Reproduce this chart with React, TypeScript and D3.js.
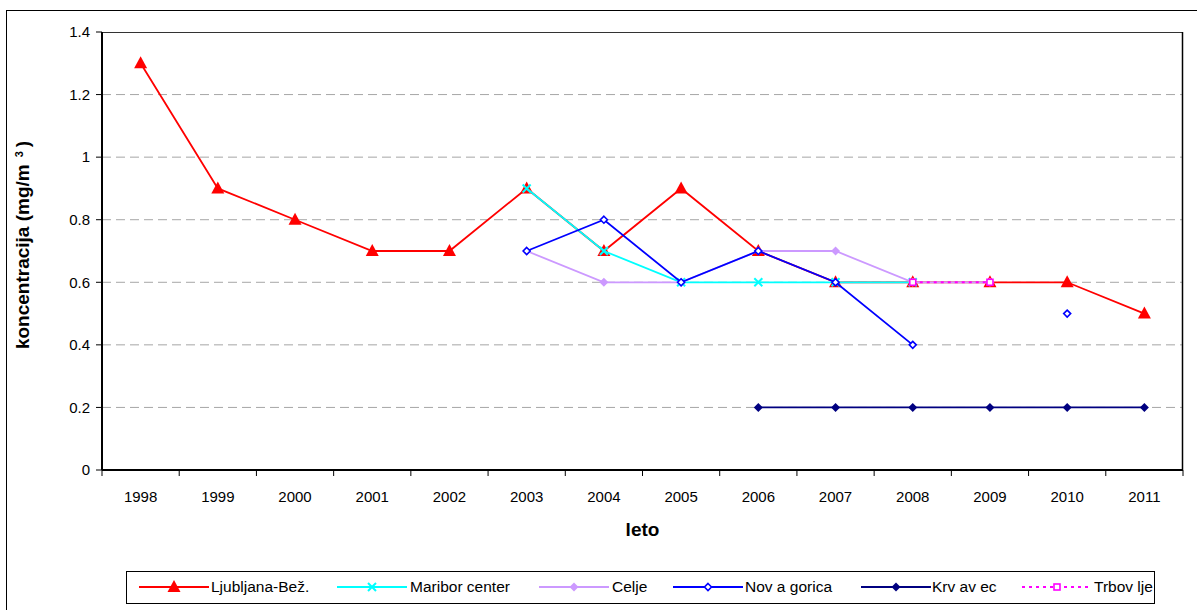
import React from "react";
import * as d3 from "d3";

const years = ["1998","1999","2000","2001","2002","2003","2004","2005","2006","2007","2008","2009","2010","2011"];
const yTicks = [0, 0.2, 0.4, 0.6, 0.8, 1, 1.2, 1.4];

const ljubljana: (number|null)[] = [1.3,0.9,0.8,0.7,0.7,0.9,0.7,0.9,0.7,0.6,0.6,0.6,0.6,0.5];
const maribor: (number|null)[] = [null,null,null,null,null,0.9,0.7,0.6,0.6,0.6,0.6,null,null,null];
const celje: (number|null)[] = [null,null,null,null,null,0.7,0.6,0.6,0.7,0.7,0.6,0.6,null,null];
const novaGorica: (number|null)[] = [null,null,null,null,null,0.7,0.8,0.6,0.7,0.6,0.4,null,0.5,null];
const krvavec: (number|null)[] = [null,null,null,null,null,null,null,null,0.2,0.2,0.2,0.2,0.2,0.2];
const trbovlje: (number|null)[] = [null,null,null,null,null,null,null,null,null,null,0.6,0.6,null,null];

type Marker = "triangle" | "x" | "diamondFill" | "diamondOpen" | "square";
const series: { name: string; values: (number|null)[]; color: string; marker: Marker; dash?: string; legendX: number; textX: number }[] = [
  { name: "Ljubljana-Bež.", values: ljubljana, color: "#FF0000", marker: "triangle", legendX: 139, textX: 211 },
  { name: "Maribor center", values: maribor, color: "#00FFFF", marker: "x", legendX: 337, textX: 410 },
  { name: "Celje", values: celje, color: "#CC99FF", marker: "diamondFill", legendX: 539, textX: 612 },
  { name: "Nov a gorica", values: novaGorica, color: "#0000FF", marker: "diamondOpen", legendX: 673, textX: 745 },
  { name: "Krv av ec", values: krvavec, color: "#000080", marker: "diamondFill", legendX: 861, textX: 932 },
  { name: "Trbov lje", values: trbovlje, color: "#FF00FF", marker: "square", dash: "3 4", legendX: 1022, textX: 1094 },
];

const W = 1197, H = 610;
const left = 102, right = 1183, top = 32, bottom = 470;
const FONT = "'Liberation Sans', Arial, sans-serif";

function MarkerShape({ type, x, y, color }: { type: Marker; x: number; y: number; color: string }) {
  switch (type) {
    case "triangle":
      return <path d={`M${x},${y - 7}L${x + 6.5},${y + 5}L${x - 6.5},${y + 5}Z`} fill={color} />;
    case "x":
      return <path d={`M${x - 4},${y - 4}L${x + 4},${y + 4}M${x - 4},${y + 4}L${x + 4},${y - 4}`} stroke={color} strokeWidth={2} />;
    case "diamondFill":
      return <path d={`M${x},${y - 4.5}L${x + 4.5},${y}L${x},${y + 4.5}L${x - 4.5},${y}Z`} fill={color} />;
    case "diamondOpen":
      return <path d={`M${x},${y - 3.5}L${x + 3.5},${y}L${x},${y + 3.5}L${x - 3.5},${y}Z`} fill="white" stroke={color} strokeWidth={1.6} />;
    case "square":
      return <rect x={x - 3} y={y - 3} width={6} height={6} fill="white" stroke={color} strokeWidth={1.6} />;
  }
}

export default function App() {
  const x = d3.scalePoint<string>().domain(years).range([left, right]).padding(0.5);
  const band = (right - left) / years.length;
  const y = d3.scaleLinear().domain([0, 1.4]).range([bottom, top]);
  const line = d3.line<[string, number | null]>()
    .defined(d => d[1] !== null)
    .x(d => x(d[0])!)
    .y(d => y(d[1] as number));

  return (
    <svg width={W} height={H} style={{ display: "block", position: "absolute", left: 0, top: 0 }} fontFamily={FONT}>
      <rect x={0} y={0} width={W} height={H} fill="white" />
      {/* outer chart border */}
      <rect x={6.5} y={10.5} width={W + 10} height={H + 10} fill="none" stroke="#000" strokeWidth={1} />
      {/* gridlines */}
      {yTicks.filter(t => t > 0 && t < 1.4).map(t => (
        <line key={t} x1={left} x2={right} y1={y(t)} y2={y(t)} stroke="#A6A6A6" strokeWidth={1} strokeDasharray="9 5" />
      ))}
      {/* plot border */}
      <line x1={left} x2={right} y1={top + 0.5} y2={top + 0.5} stroke="#333" strokeWidth={1} />
      <line x1={right - 0.5} x2={right - 0.5} y1={top} y2={bottom} stroke="#000" strokeWidth={1.5} />
      {/* y axis */}
      <line x1={left} x2={left} y1={top} y2={bottom} stroke="#000" strokeWidth={2} />
      {yTicks.map(t => (
        <g key={t}>
          <line x1={left - 6} x2={left} y1={y(t)} y2={y(t)} stroke="#000" strokeWidth={1} />
          <text x={left - 12} y={y(t)} dy="0.35em" textAnchor="end" fontSize={15} fill="#000">{String(t)}</text>
        </g>
      ))}
      {/* x axis */}
      <line x1={left} x2={right} y1={bottom} y2={bottom} stroke="#000" strokeWidth={2} />
      {d3.range(years.length + 1).map(i => (
        <line key={i} x1={left + i * band} x2={left + i * band} y1={bottom} y2={bottom + 6} stroke="#000" strokeWidth={1} />
      ))}
      {years.map(yr => (
        <text key={yr} x={x(yr)} y={496.5} dy="0.35em" textAnchor="middle" fontSize={15} fill="#000">{yr}</text>
      ))}
      {/* axis titles */}
      <text x={(left + right) / 2} y={529} dy="0.35em" textAnchor="middle" fontSize={19} fontWeight="bold" fill="#000">leto</text>
      <text transform={`translate(29,245) rotate(-90)`} textAnchor="middle" fontSize={19} fontWeight="bold" fill="#000">
        koncentracija (mg/m<tspan dx={7} baselineShift="super" fontSize={11}>3</tspan><tspan dx={4}>)</tspan>
      </text>
      {/* series */}
      {series.map(s => (
        <g key={s.name}>
          <path d={line(years.map((yr, i) => [yr, s.values[i]]))!} fill="none" stroke={s.color} strokeWidth={s.dash ? 2 : 1.8} strokeDasharray={s.dash} />
          {years.map((yr, i) => s.values[i] !== null ? (
            <MarkerShape key={yr} type={s.marker} x={x(yr)!} y={y(s.values[i] as number)} color={s.color} />
          ) : null)}
        </g>
      ))}
      {/* legend */}
      <rect x={126.5} y={571.5} width={1028} height={32} fill="white" stroke="#000" strokeWidth={1} />
      {series.map(s => (
        <g key={s.name}>
          <line x1={s.legendX} x2={s.legendX + 70} y1={587} y2={587} stroke={s.color} strokeWidth={2} strokeDasharray={s.dash} />
          <MarkerShape type={s.marker} x={s.legendX + 35} y={587} color={s.color} />
          <text x={s.textX} y={587} dy="0.35em" fontSize={15.5} fill="#000">{s.name}</text>
        </g>
      ))}
    </svg>
  );
}
